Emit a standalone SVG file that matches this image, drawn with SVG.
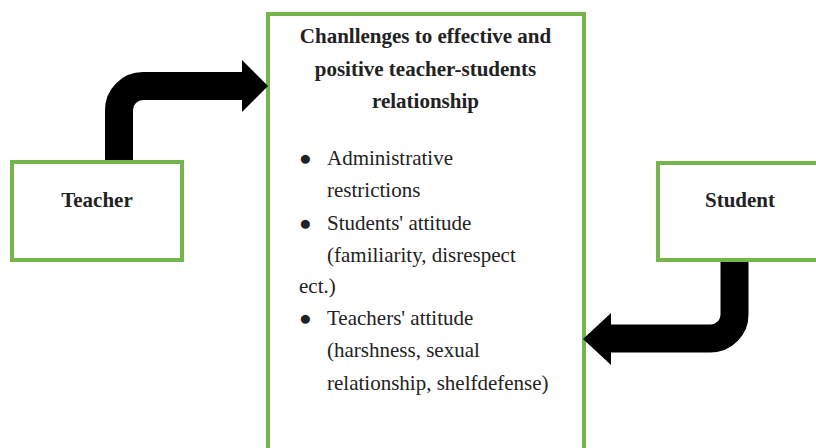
<svg xmlns="http://www.w3.org/2000/svg" width="816" height="448" viewBox="0 0 816 448">
<style>
.box{fill:#fff;stroke:#75b54b;stroke-width:4}
.t{font-family:"Liberation Serif","Times New Roman",serif;font-size:21px;fill:#222}
.b{font-weight:bold}
.shaft{fill:none;stroke:#000;stroke-width:28}
</style>
<rect width="816" height="448" fill="#fff"/>
<g id="challenges">
<rect class="box" x="268" y="14" width="316" height="450"/>
<text class="t b" x="425.5" y="43" text-anchor="middle">Chanllenges to effective and</text>
<text class="t b" x="425.5" y="76" text-anchor="middle">positive teacher-students</text>
<text class="t b" x="425.5" y="108" text-anchor="middle">relationship</text>
<text class="t" x="299" y="165">●</text>
<text class="t" x="327" y="165">Administrative</text>
<text class="t" x="327" y="197">restrictions</text>
<text class="t" x="299" y="230">●</text>
<text class="t" x="327" y="230">Students' attitude</text>
<text class="t" x="327" y="262">(familiarity, disrespect</text>
<text class="t" x="299" y="293">ect.)</text>
<text class="t" x="299" y="325">●</text>
<text class="t" x="327" y="325">Teachers' attitude</text>
<text class="t" x="327" y="357">(harshness, sexual</text>
<text class="t" x="327" y="390">relationship, shelfdefense)</text>
</g>
<g id="teacher">
<rect class="box" x="12" y="162" width="170" height="98"/>
<text class="t b" x="97" y="207" text-anchor="middle">Teacher</text>
</g>
<g id="student">
<rect class="box" x="658" y="163" width="170" height="97"/>
<text class="t b" x="740" y="207" text-anchor="middle">Student</text>
</g>
<g id="connectors">
<path class="shaft" d="M119,160 V110 A24,24 0 0 1 143,86 H244"/>
<polygon points="242,60 268,86 242,112" fill="#000"/>
<path class="shaft" d="M734.5,262 V314 A24,24 0 0 1 710.5,338.5 H609"/>
<polygon points="611,313 583,339 611,365" fill="#000"/>
</g>
</svg>
